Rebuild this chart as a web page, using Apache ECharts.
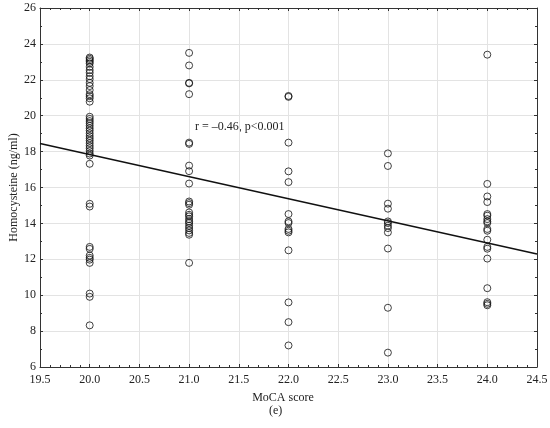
<!DOCTYPE html>
<html>
<head>
<meta charset="utf-8">
<script src="https://cdn.jsdelivr.net/npm/echarts@6/dist/echarts.min.js"></script>
<style>
  html, body { margin: 0; padding: 0; background: #fff; }
  #main { width: 550px; height: 428px; }
</style>
</head>
<body>
<div id="main"></div>
<script>
// MoCA score vs homocysteine
const mocaScores = [20, 21, 22, 23, 24];
const hcyAt20 = [23.24, 23.17, 23.09, 23.0, 22.91, 22.72, 22.54, 22.39, 22.2, 22.04, 21.83, 21.65, 21.43, 21.2, 21.09, 20.97, 20.78,
  19.94, 19.82, 19.7, 19.58, 19.44, 19.3, 19.17, 19.02, 18.87, 18.74, 18.61, 18.47, 18.32, 18.19, 18.04, 17.89, 17.78, 17.32,
  15.09, 14.94, 12.69, 12.58, 12.21, 12.08, 11.98, 11.8, 10.09, 9.91, 8.32];
const hcyAt21 = [23.5, 22.8, 21.83, 21.8, 21.2, 18.5, 18.43, 17.22, 16.91, 16.22, 15.22, 15.13, 15.04, 14.61, 14.48, 14.39,
  14.24, 14.11, 14.02, 13.87, 13.74, 13.61, 13.47, 13.37, 11.8];
const hcyAt22 = [21.1, 21.05, 18.5, 16.9, 16.3, 14.52, 14.11, 14.02, 13.69, 13.59, 13.5, 12.5, 9.6, 8.5, 7.2];
const hcyAt23 = [17.9, 17.2, 15.1, 14.82, 14.11, 14.02, 13.87, 13.74, 13.5, 12.6, 9.3, 6.8];
const hcyAt24 = [23.4, 16.2, 15.5, 15.19, 14.52, 14.43, 14.24, 14.11, 14.02, 13.69, 13.59, 13.09, 12.69, 12.59, 12.04,
  10.39, 9.61, 9.52, 9.44];
const hcyByScore = [hcyAt20, hcyAt21, hcyAt22, hcyAt23, hcyAt24];

// regression line end points
const fitX = [19.5, 24.5];
const fitY = [18.45, 12.3];

const points = [];
mocaScores.forEach((s, i) => {
  hcyByScore[i].forEach(v => points.push([s, v]));
});
const fitLine = fitX.map((x, i) => [x, fitY[i]]);

const font = 'Liberation Serif, Times New Roman, serif';
const chart = echarts.init(document.getElementById('main'));

const frameAxis = {
  axisLine: { show: true, lineStyle: { color: '#333', width: 1 } },
  axisTick: { show: true, inside: true, length: 3, lineStyle: { color: '#333' } },
  axisLabel: { show: false },
  splitLine: { show: false }
};

chart.setOption({
  animation: false,
  grid: { left: 40, right: 13, top: 8, bottom: 61, outerBoundsMode: 'none', containLabel: false },
  xAxis: [{
    type: 'value', min: 19.5, max: 24.5, interval: 0.5,
    name: 'MoCA score', nameLocation: 'middle', nameGap: 25,
    nameTextStyle: { fontFamily: font, fontSize: 12, color: '#222', padding: [0, 11, 0, 0] },
    axisLine: { show: true, lineStyle: { color: '#333', width: 1 } },
    axisTick: { show: true, inside: true, length: 3, lineStyle: { color: '#333' } },
    minorTick: { show: true, splitNumber: 5, length: 2, lineStyle: { color: '#333' } },
    axisLabel: { fontFamily: font, fontSize: 12, color: '#222', margin: 7,
      formatter: v => v.toFixed(1) },
    splitLine: { show: true, lineStyle: { color: '#e3e3e3', width: 1 } }
  }, Object.assign({
    type: 'value', position: 'top', min: 19.5, max: 24.5, interval: 0.5
  }, frameAxis, { minorTick: { show: true, splitNumber: 5, length: 2, lineStyle: { color: '#333' } } })],
  yAxis: [{
    type: 'value', min: 6, max: 26, interval: 2,
    name: 'Homocysteine (ng/ml)', nameLocation: 'middle', nameGap: 20, nameMoveOverlap: false,
    nameTextStyle: { fontFamily: font, fontSize: 12, color: '#222' },
    axisLine: { show: true, lineStyle: { color: '#333', width: 1 } },
    axisTick: { show: true, inside: true, length: 3, lineStyle: { color: '#333' } },
    minorTick: { show: true, splitNumber: 2, length: 2, lineStyle: { color: '#333' } },
    axisLabel: { fontFamily: font, fontSize: 12, color: '#222', margin: 4 },
    splitLine: { show: true, lineStyle: { color: '#e3e3e3', width: 1 } }
  }, Object.assign({
    type: 'value', position: 'right', min: 6, max: 26, interval: 2
  }, frameAxis, { minorTick: { show: true, splitNumber: 2, length: 2, lineStyle: { color: '#333' } } })],
  series: [
    {
      type: 'scatter',
      data: points,
      symbol: 'circle',
      symbolSize: 7,
      itemStyle: { color: 'rgba(255,255,255,0)', borderColor: '#111', borderWidth: 1 },
      z: 3
    },
    {
      type: 'line',
      data: fitLine,
      symbol: 'none',
      lineStyle: { color: '#111', width: 1.5 },
      z: 4
    }
  ],
  graphic: [
    {
      type: 'text', left: 195, top: 121,
      style: { text: 'r = \u20130.46, p<0.001', font: '12px ' + font, fill: '#222' }
    },
    {
      type: 'text', left: 269, top: 405,
      style: { text: '(e)', font: '12px ' + font, fill: '#222' }
    }
  ]
});
</script>
</body>
</html>
